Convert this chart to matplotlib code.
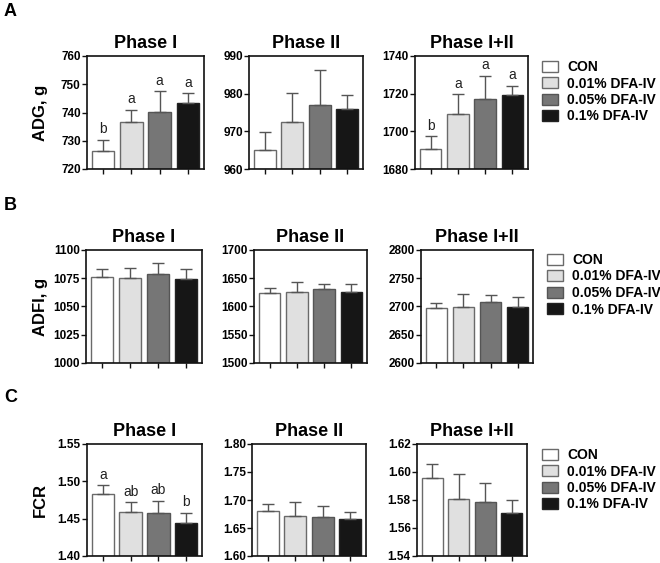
import matplotlib
matplotlib.use("Agg")
import matplotlib.pyplot as plt
from matplotlib.patches import Patch

plt.rcParams['font.family'] = ['Liberation Sans', 'DejaVu Sans']

groups = ["CON", "0.01% DFA-IV", "0.05% DFA-IV", "0.1% DFA-IV"]
phases = ["Phase I", "Phase II", "Phase I+II"]

# ADG (g)
adg_mean = [[726.3, 736.5, 740.2, 743.3],
            [965.0, 972.6, 977.0, 975.9],
            [1690.6, 1709.0, 1717.2, 1719.3]]
adg_err = [[4.0, 4.5, 7.3, 3.5],
           [4.7, 7.7, 9.2, 3.7],
           [6.9, 10.8, 12.2, 4.8]]
adg_letters = [["b", "a", "a", "a"], None, ["b", "a", "a", "a"]]
adg_ylim = [(720, 760), (960, 990), (1680, 1740)]
adg_ticks = [[720, 730, 740, 750, 760], [960, 970, 980, 990], [1680, 1700, 1720, 1740]]

# ADFI (g)
adfi_mean = [[1076.3, 1075.1, 1079.0, 1073.9],
             [1623.1, 1625.4, 1630.2, 1626.0],
             [2698.0, 2698.5, 2707.4, 2699.0]]
adfi_err = [[6.5, 9.2, 9.8, 8.9],
            [8.9, 17.2, 8.8, 13.0],
            [8.2, 23.5, 13.6, 17.3]]
adfi_letters = [None, None, None]
adfi_ylim = [(1000, 1100), (1500, 1700), (2600, 2800)]
adfi_ticks = [[1000, 1025, 1050, 1075, 1100], [1500, 1550, 1600, 1650, 1700],
              [2600, 2650, 2700, 2750, 2800]]

# FCR
fcr_mean = [[1.483, 1.4585, 1.458, 1.4437],
            [1.681, 1.672, 1.669, 1.6655],
            [1.596, 1.5805, 1.5783, 1.5705]]
fcr_err = [[0.0116, 0.0134, 0.0161, 0.0143],
           [0.0125, 0.0244, 0.021, 0.0125],
           [0.010, 0.0183, 0.0137, 0.0095]]
fcr_letters = [["a", "ab", "ab", "b"], None, None]
fcr_ylim = [(1.40, 1.55), (1.60, 1.80), (1.54, 1.62)]
fcr_ticks = [[1.40, 1.45, 1.50, 1.55], [1.60, 1.65, 1.70, 1.75, 1.80],
             [1.54, 1.56, 1.58, 1.60, 1.62]]

bar_colors = ["#ffffff", "#e0e0e0", "#767676", "#161616"]
edge_colors = ["#6a6a6a", "#6a6a6a", "#555555", "#222222"]

W, H = 660, 563
fig = plt.figure(figsize=(W / 100, H / 100), dpi=100)

rows = [
    dict(label="A", ylabel="ADG, g", mean=adg_mean, err=adg_err, letters=adg_letters,
         ylim=adg_ylim, ticks=adg_ticks, fmt="{:.0f}",
         top=56, bottom=169, xs=[(87, 204), (249, 363), (415, 528)],
         letter_y=11, leg=(542, 60)),
    dict(label="B", ylabel="ADFI, g", mean=adfi_mean, err=adfi_err, letters=adfi_letters,
         ylim=adfi_ylim, ticks=adfi_ticks, fmt="{:.0f}",
         top=250, bottom=363, xs=[(86, 202), (254, 367), (421, 533)],
         letter_y=205, leg=(547, 253)),
    dict(label="C", ylabel="FCR", mean=fcr_mean, err=fcr_err, letters=fcr_letters,
         ylim=fcr_ylim, ticks=fcr_ticks, fmt="{:.2f}",
         top=444, bottom=556, xs=[(87, 202), (252, 366), (417, 527)],
         letter_y=398, leg=(542, 448)),
]

x = list(range(len(groups)))
for r in rows:
    for j, (x0, x1) in enumerate(r["xs"]):
        ax = fig.add_axes([x0 / W, 1 - r["bottom"] / H, (x1 - x0) / W,
                           (r["bottom"] - r["top"]) / H])
        ymin, ymax = r["ylim"][j]
        means = r["mean"][j]
        errs = r["err"][j]
        ax.bar(x, [m - ymin for m in means], bottom=ymin, width=0.8,
               color=bar_colors, edgecolor=edge_colors, linewidth=1.0, zorder=2)
        ax.errorbar(x, means, yerr=[[0] * 4, errs], fmt="none", ecolor="#555555",
                    elinewidth=1.0, capsize=4, capthick=1.0, zorder=3)
        lets = r["letters"][j]
        if lets:
            for xi, m, e, t in zip(x, means, errs, lets):
                ax.annotate(t, (xi, m + e), xytext=(0, 2.5), textcoords="offset points",
                            ha="center", va="bottom", fontsize=10, color="#222222")
        ax.set_xlim(-0.57, 3.57)
        ax.set_ylim(ymin, ymax)
        ax.set_xticks(x)
        ax.set_xticklabels([])
        ax.set_yticks(r["ticks"][j])
        ax.set_yticklabels([r["fmt"].format(t) for t in r["ticks"][j]],
                           fontsize=8.5, fontweight="bold")
        ax.tick_params(axis="both", direction="out", length=3.5, width=1.0,
                       pad=1, color="#111111")
        for s in ax.spines.values():
            s.set_linewidth(1.2)
            s.set_color("#111111")
        ax.set_title(phases[j], fontsize=13, fontweight="bold", pad=6)
    # ylabel
    fig.text(40 / W, 1 - (r["top"] + r["bottom"]) / 2 / H, r["ylabel"], rotation=90,
             ha="center", va="center", fontsize=12, fontweight="bold")
    # panel letter
    fig.text(4 / W, 1 - r["letter_y"] / H, r["label"], ha="left", va="center",
             fontsize=13, fontweight="bold")
    # legend
    handles = [Patch(facecolor=c, edgecolor=e, linewidth=1.0)
               for c, e in zip(bar_colors, edge_colors)]
    fig.legend(handles, groups, loc="upper left",
               bbox_to_anchor=(r["leg"][0] / W, 1 - r["leg"][1] / H),
               frameon=False, borderpad=0, borderaxespad=0,
               handlelength=1.15, handleheight=0.85, handletextpad=0.65,
               labelspacing=0.18, prop=dict(size=10, weight="bold"))

fig.savefig("out.png", dpi=100)
